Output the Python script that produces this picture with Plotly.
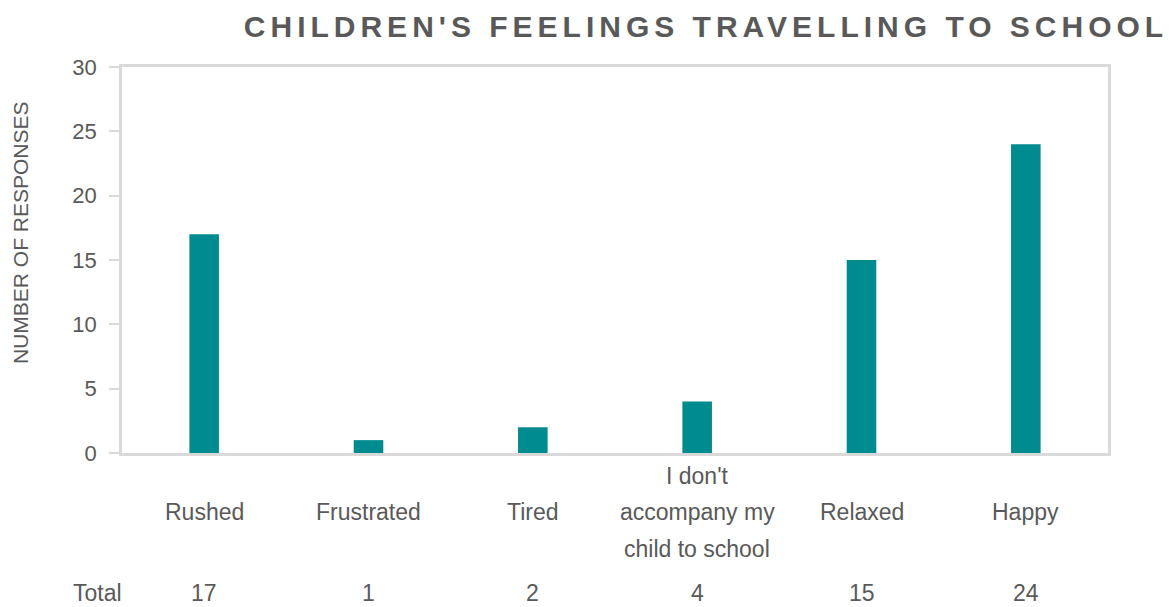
import plotly.graph_objects as go

categories = ["Rushed", "Frustrated", "Tired", "I don't accompany my child to school", "Relaxed", "Happy"]
category_lines = [["Rushed"], ["Frustrated"], ["Tired"], ["I don't", "accompany my", "child to school"], ["Relaxed"], ["Happy"]]
values = [17, 1, 2, 4, 15, 24]
y_ticks = [0, 5, 10, 15, 20, 25, 30]
title_text = "CHILDREN'S FEELINGS TRAVELLING TO SCHOOL"
y_title = "NUMBER OF RESPONSES"
total_label = "Total"

W, H = 1175, 607
OFF = 8  # page body margin
PL, PR, PT, PB = 122, 1108, 67, 453  # plot area in screen pixels
L, T = PL - OFF, PT - OFF
R, B = W - (PR - OFF), H - (PB - OFF)
PW, PH = PR - PL, PB - PT
FONT = "Arial, Liberation Sans, sans-serif"
GREY = "#595959"
LINE = "#D9D9D9"
TEAL = "#008B90"
LABEL_SIZE = 23

def py(pix):
    return (PB - pix) / PH

def px(pix):
    return (pix - PL) / PW

fig = go.Figure()
fig.add_trace(go.Bar(x=categories, y=values, marker=dict(color=TEAL, line=dict(width=0)),
                     width=0.18, showlegend=False, hoverinfo="x+y"))

annotations = []
line_y_single = 512
line_gap = 36.5
for cat, lines in zip(categories, category_lines):
    n = len(lines)
    start = line_y_single - (n - 1) / 2 * line_gap
    for i, ln in enumerate(lines):
        annotations.append(dict(x=cat, xref="x", y=py(start + i * line_gap), yref="paper",
                                text=ln, showarrow=False, xanchor="center", yanchor="middle",
                                font=dict(family=FONT, size=LABEL_SIZE, color=GREY)))
for cat, v in zip(categories, values):
    annotations.append(dict(x=cat, xref="x", y=py(593), yref="paper", text=str(v),
                            showarrow=False, xanchor="center", yanchor="middle",
                            font=dict(family=FONT, size=LABEL_SIZE, color=GREY)))
annotations.append(dict(x=px(97), xref="paper", y=py(593), yref="paper", text=total_label,
                        showarrow=False, xanchor="center", yanchor="middle",
                        font=dict(family=FONT, size=LABEL_SIZE, color=GREY)))
annotations.append(dict(x=px(20), xref="paper", y=py(233), yref="paper", text=y_title,
                        textangle=-90, showarrow=False, xanchor="center", yanchor="middle",
                        font=dict(family=FONT, size=21, color=GREY)))

fig.update_layout(
    width=W, height=H,
    margin=dict(l=L, r=R, t=T, b=B, autoexpand=False),
    paper_bgcolor="white", plot_bgcolor="white",
    title=dict(text='<span style="letter-spacing:5px">' + title_text + '</span>',
               x=px(706), xref="paper", xanchor="center",
               y=1 - (26 - OFF) / H, yref="container", yanchor="middle",
               font=dict(family=FONT, size=30, color=GREY, weight="bold")),
    xaxis=dict(showticklabels=False, showline=True, linecolor=LINE, linewidth=2.5, mirror=True,
               ticks="", showgrid=False, zeroline=False),
    yaxis=dict(range=[0, 30], tickvals=y_ticks, showline=True, linecolor=LINE, linewidth=2.5,
               mirror=True, ticks="outside", ticklen=10, tickcolor=LINE, tickwidth=1.5,
               showgrid=False, zeroline=False, ticklabelstandoff=8,
               tickfont=dict(family=FONT, size=22, color=GREY)),
    annotations=annotations,
    font=dict(family=FONT, color=GREY),
)

fig.write_html("out.html")
